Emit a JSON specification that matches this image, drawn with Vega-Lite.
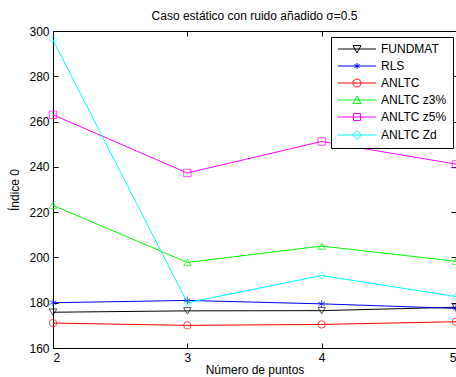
{
  "$schema": "https://vega.github.io/schema/vega-lite/v6.json",
  "autosize": {"type": "none"},
  "padding": {"left": 53, "top": 31, "right": 0, "bottom": 29},
  "width": 403,
  "height": 317,
  "background": "white",
  "title": {"text": "Caso estático con ruido añadido σ=0.5", "font": "Liberation Sans", "fontSize": 12, "fontWeight": "normal", "color": "black", "offset": 2},
  "config": {
    "view": {"stroke": "black", "strokeWidth": 1},
    "axis": {"labelFont": "Liberation Sans", "labelFontSize": 12, "labelColor": "black", "titleFont": "Liberation Sans", "titleFontSize": 12, "titleFontWeight": "normal", "titleColor": "black", "tickColor": "black", "domainColor": "black", "grid": false}
  },
  "data": {"values": [
    {"x": 2, "y": 175.8, "series": "FUNDMAT"},
    {"x": 3, "y": 176.4, "series": "FUNDMAT"},
    {"x": 4, "y": 176.5, "series": "FUNDMAT"},
    {"x": 5, "y": 178, "series": "FUNDMAT"},
    {"x": 2, "y": 180, "series": "RLS"},
    {"x": 3, "y": 181, "series": "RLS"},
    {"x": 4, "y": 179.5, "series": "RLS"},
    {"x": 5, "y": 177.5, "series": "RLS"},
    {"x": 2, "y": 171, "series": "ANLTC"},
    {"x": 3, "y": 170, "series": "ANLTC"},
    {"x": 4, "y": 170.4, "series": "ANLTC"},
    {"x": 5, "y": 171.6, "series": "ANLTC"},
    {"x": 2, "y": 223, "series": "ANLTC z3%"},
    {"x": 3, "y": 197.8, "series": "ANLTC z3%"},
    {"x": 4, "y": 205, "series": "ANLTC z3%"},
    {"x": 5, "y": 198.3, "series": "ANLTC z3%"},
    {"x": 2, "y": 263, "series": "ANLTC z5%"},
    {"x": 3, "y": 237.3, "series": "ANLTC z5%"},
    {"x": 4, "y": 251.2, "series": "ANLTC z5%"},
    {"x": 5, "y": 241.2, "series": "ANLTC z5%"},
    {"x": 2, "y": 296, "series": "ANLTC Zd"},
    {"x": 3, "y": 180, "series": "ANLTC Zd"},
    {"x": 4, "y": 192, "series": "ANLTC Zd"},
    {"x": 5, "y": 182.7, "series": "ANLTC Zd"}
  ]},
  "layer": [
    {
      "mark": {"type": "line", "strokeWidth": 1, "clip": true},
      "encoding": {
        "x": {"field": "x", "type": "quantitative", "scale": {"domain": [2, 5], "nice": false, "zero": false},
              "axis": {"orient": "bottom", "values": [2, 3, 4, 5], "tickSize": -5, "labelPadding": 9, "title": "Número de puntos", "titlePadding": 1}},
        "y": {"field": "y", "type": "quantitative", "scale": {"domain": [160, 300], "nice": false, "zero": false},
              "axis": {"orient": "left", "values": [160, 180, 200, 220, 240, 260, 280, 300], "tickSize": -5, "labelPadding": 9, "title": "Índice 0", "titlePadding": 7}},
        "color": {"field": "series", "type": "nominal", "legend": null,
                  "scale": {"domain": ["FUNDMAT", "RLS", "ANLTC", "ANLTC z3%", "ANLTC z5%", "ANLTC Zd"],
                            "range": ["#000000", "#0000ff", "#ff0000", "#00ff00", "#ff00ff", "#00ffff"]}},
        "detail": {"field": "series"}
      }
    },
    {
      "mark": {"type": "point", "filled": false, "strokeWidth": 1, "size": 55},
      "encoding": {
        "x": {"field": "x", "type": "quantitative", "axis": {"orient": "top", "values": [2, 3, 4, 5], "tickSize": -5, "labels": false, "domain": false, "title": null}},
        "y": {"field": "y", "type": "quantitative", "axis": {"orient": "right", "values": [160, 180, 200, 220, 240, 260, 280, 300], "tickSize": -5, "labels": false, "domain": false, "title": null}},
        "color": {"field": "series", "type": "nominal", "legend": null,
                  "scale": {"domain": ["FUNDMAT", "RLS", "ANLTC", "ANLTC z3%", "ANLTC z5%", "ANLTC Zd"],
                            "range": ["#000000", "#0000ff", "#ff0000", "#00ff00", "#ff00ff", "#00ffff"]}},
        "shape": {"field": "series", "type": "nominal", "legend": null,
                  "scale": {"domain": ["FUNDMAT", "RLS", "ANLTC", "ANLTC z3%", "ANLTC z5%", "ANLTC Zd"],
                            "range": ["triangle-down", "M0,-1L0,1M-0.87,-0.5L0.87,0.5M-0.87,0.5L0.87,-0.5", "circle", "triangle-up", "square", "diamond"]}}
      }
    },
    {
      "mark": {"type": "point", "opacity": 0, "filled": false},
      "encoding": {
        "x": {"field": "x", "type": "quantitative", "axis": null},
        "y": {"field": "y", "type": "quantitative", "axis": null},
        "color": {"field": "series", "type": "nominal",
                  "scale": {"domain": ["FUNDMAT", "RLS", "ANLTC", "ANLTC z3%", "ANLTC z5%", "ANLTC Zd"],
                            "range": ["#000000", "#0000ff", "#ff0000", "#00ff00", "#ff00ff", "#00ffff"]},
                  "legend": {"title": null, "orient": "none", "legendX": 278, "legendY": 6,
                             "symbolSize": 100, "symbolFillColor": "transparent", "symbolStrokeWidth": 1, "symbolOpacity": 1,
                             "labelOffset": 32, "labelFont": "Liberation Sans", "labelFontSize": 12, "labelColor": "black",
                             "strokeColor": "black", "fillColor": "white", "padding": 6, "rowPadding": 5}},
        "shape": {"field": "series", "type": "nominal",
                  "scale": {"domain": ["FUNDMAT", "RLS", "ANLTC", "ANLTC z3%", "ANLTC z5%", "ANLTC Zd"],
                            "range": [
                              "M-1,0L6.6,0M2.0,-0.7L3.6,-0.7L2.8,0.8Z",
                              "M-1,0L6.6,0M2.8,-0.6L2.8,0.6M2.3,-0.3L3.3,0.3M2.3,0.3L3.3,-0.3",
                              "M-1,0L6.6,0M2.0,0A0.8,0.8 0 1,0 3.6,0A0.8,0.8 0 1,0 2.0,0",
                              "M-1,0L6.6,0M2.0,0.7L3.6,0.7L2.8,-0.8Z",
                              "M-1,0L6.6,0M2.1,-0.7L3.5,-0.7L3.5,0.7L2.1,0.7Z",
                              "M-1,0L6.6,0M2.8,-0.9L3.7,0L2.8,0.9L1.9,0Z"
                            ]},
                  "legend": {"title": null, "orient": "none", "legendX": 278, "legendY": 6,
                             "symbolSize": 100, "symbolFillColor": "transparent", "symbolStrokeWidth": 1, "symbolOpacity": 1,
                             "labelOffset": 32, "labelFont": "Liberation Sans", "labelFontSize": 12, "labelColor": "black",
                             "strokeColor": "black", "fillColor": "white", "padding": 6, "rowPadding": 5}}
      }
    }
  ],
  "resolve": {"scale": {"shape": "independent", "color": "independent"}, "axis": {"x": "independent", "y": "independent"}}
}
